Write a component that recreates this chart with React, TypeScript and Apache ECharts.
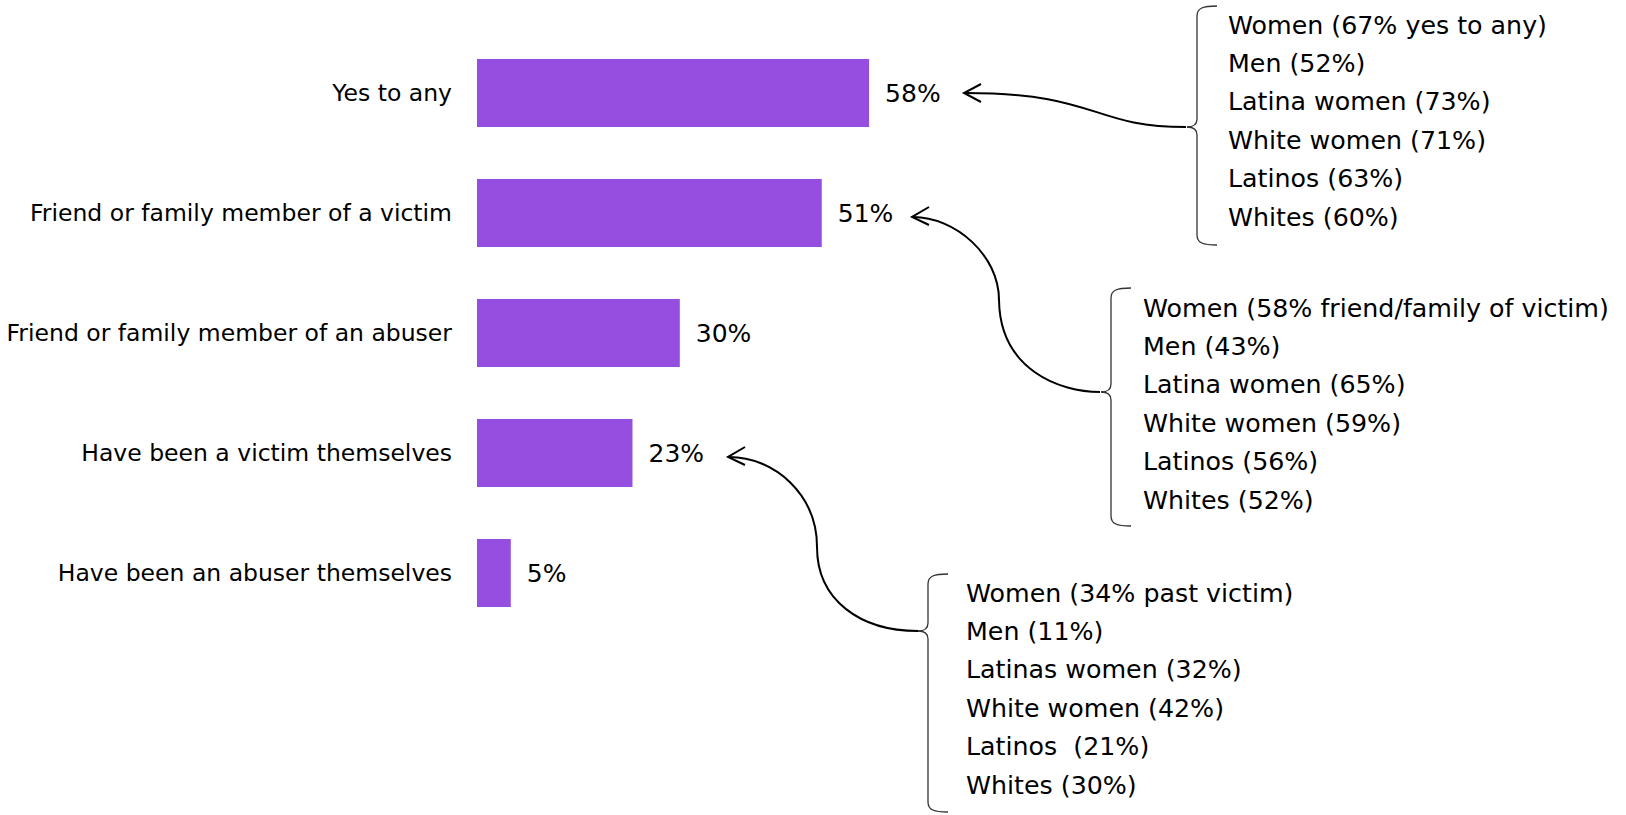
import React, { useEffect, useRef } from "react";
import * as echarts from "echarts";

const categories = [
  "Yes to any",
  "Friend or family member of a victim",
  "Friend or family member of an abuser",
  "Have been a victim themselves",
  "Have been an abuser themselves",
];
const values = [58, 51, 30, 23, 5];

const notesAny = [
  "Women (67% yes to any)",
  "Men (52%)",
  "Latina women (73%)",
  "White women (71%)",
  "Latinos (63%)",
  "Whites (60%)",
];
const notesFriendVictim = [
  "Women (58% friend/family of victim)",
  "Men (43%)",
  "Latina women (65%)",
  "White women (59%)",
  "Latinos (56%)",
  "Whites (52%)",
];
const notesPastVictim = [
  "Women (34% past victim)",
  "Men (11%)",
  "Latinas women (32%)",
  "White women (42%)",
  "Latinos  (21%)",
  "Whites (30%)",
];

const FONT = "DejaVu Sans";
const FS_CAT = 23.5;
const FS_NOTE = 25.3;
const FS_VAL = 25;
const BAR = "#954EE0";

function brace(x: number, top: number, bottom: number, mid: number) {
  const st = { stroke: "#333", lineWidth: 1.3, fill: "none" };
  const bz = (x1: number, y1: number, c1x: number, c1y: number, c2x: number, c2y: number, x2: number, y2: number) => ({
    type: "bezierCurve",
    shape: { x1, y1, cpx1: c1x, cpy1: c1y, cpx2: c2x, cpy2: c2y, x2, y2 },
    style: st,
    silent: true,
  });
  const ln = (x1: number, y1: number, x2: number, y2: number) => ({
    type: "line",
    shape: { x1, y1, x2, y2 },
    style: st,
    silent: true,
  });
  return [
    bz(x + 20, top, x + 6, top, x, top + 2, x, top + 10),
    ln(x, top + 10, x, mid - 8),
    bz(x, mid - 8, x, mid - 2, x - 4, mid, x - 10, mid),
    bz(x - 10, mid, x - 4, mid, x, mid + 2, x, mid + 8),
    ln(x, mid + 8, x, bottom - 10),
    bz(x, bottom - 10, x, bottom - 2, x + 6, bottom, x + 20, bottom),
  ];
}

function curve(pts: number[][]) {
  return {
    type: "bezierCurve",
    shape: {
      x1: pts[0][0], y1: pts[0][1],
      cpx1: pts[1][0], cpy1: pts[1][1],
      cpx2: pts[2][0], cpy2: pts[2][1],
      x2: pts[3][0], y2: pts[3][1],
    },
    style: { stroke: "#000", lineWidth: 2, fill: "none" },
    silent: true,
  };
}

function head(tx: number, ty: number, dy1: number, dy2: number) {
  return {
    type: "polyline",
    shape: { points: [[tx + 17, ty + dy1], [tx, ty], [tx + 17, ty + dy2]] },
    style: { stroke: "#000", lineWidth: 2, fill: "none" },
    silent: true,
  };
}

function textBlock(lines: string[], x: number, y0: number, step: number) {
  return lines.map((t, i) => ({
    type: "text",
    x,
    y: y0 + i * step,
    style: {
      text: t,
      fontFamily: FONT,
      fontSize: FS_NOTE,
      fill: "#000",
      textAlign: "left",
      textVerticalAlign: "middle",
    },
    silent: true,
  }));
}

export default function App() {
  const ref = useRef<HTMLDivElement>(null);
  useEffect(() => {
    if (!ref.current) return;
    const chart = echarts.init(ref.current, undefined, { renderer: "svg" });
    const graphic: any[] = [
      ...brace(1197, 6, 245, 127),
      ...brace(1111, 288, 526, 392),
      ...brace(928, 574, 812, 631),
      curve([[1186, 127], [1090, 127], [1100, 93], [965, 93]]),
      head(964, 93, -9, 9),
      curve([[1100, 392], [1060, 392], [1000, 370], [999, 300]]),
      curve([[999, 300], [999, 255], [955, 217], [913, 217]]),
      head(912, 217, -10, 8),
      curve([[918, 631], [860, 631], [817, 600], [817, 547]]),
      curve([[817, 547], [817, 495], [775, 457], [729, 457]]),
      head(728, 457, -10, 8),
      ...textBlock(notesAny, 1228, 25, 38.4),
      ...textBlock(notesFriendVictim, 1143, 308, 38.4),
      ...textBlock(notesPastVictim, 966, 593, 38.4),
    ];
    chart.setOption({
      animation: false,
      backgroundColor: "#fff",
      textStyle: { fontFamily: FONT },
      grid: { left: 477, top: 33, right: 473, height: 600, containLabel: false, outerBoundsMode: "none" },
      xAxis: {
        type: "value",
        min: 0,
        max: 100,
        show: false,
        splitLine: { show: false },
      },
      yAxis: {
        type: "category",
        data: categories,
        inverse: true,
        axisLine: { show: false },
        axisTick: { show: false },
        axisLabel: { margin: 25, fontSize: FS_CAT, color: "#000", fontFamily: FONT },
      },
      series: [
        {
          type: "bar",
          data: values,
          barWidth: 68,
          itemStyle: { color: BAR },
          label: {
            show: true,
            position: "right",
            distance: 16,
            formatter: "{c}%",
            fontSize: FS_VAL,
            color: "#000",
            fontFamily: FONT,
          },
        },
      ],
      graphic,
    });
    return () => chart.dispose();
  }, []);
  return (
    <div
      ref={ref}
      style={{ position: "absolute", left: 0, top: 0, width: 1626, height: 815 }}
    />
  );
}
